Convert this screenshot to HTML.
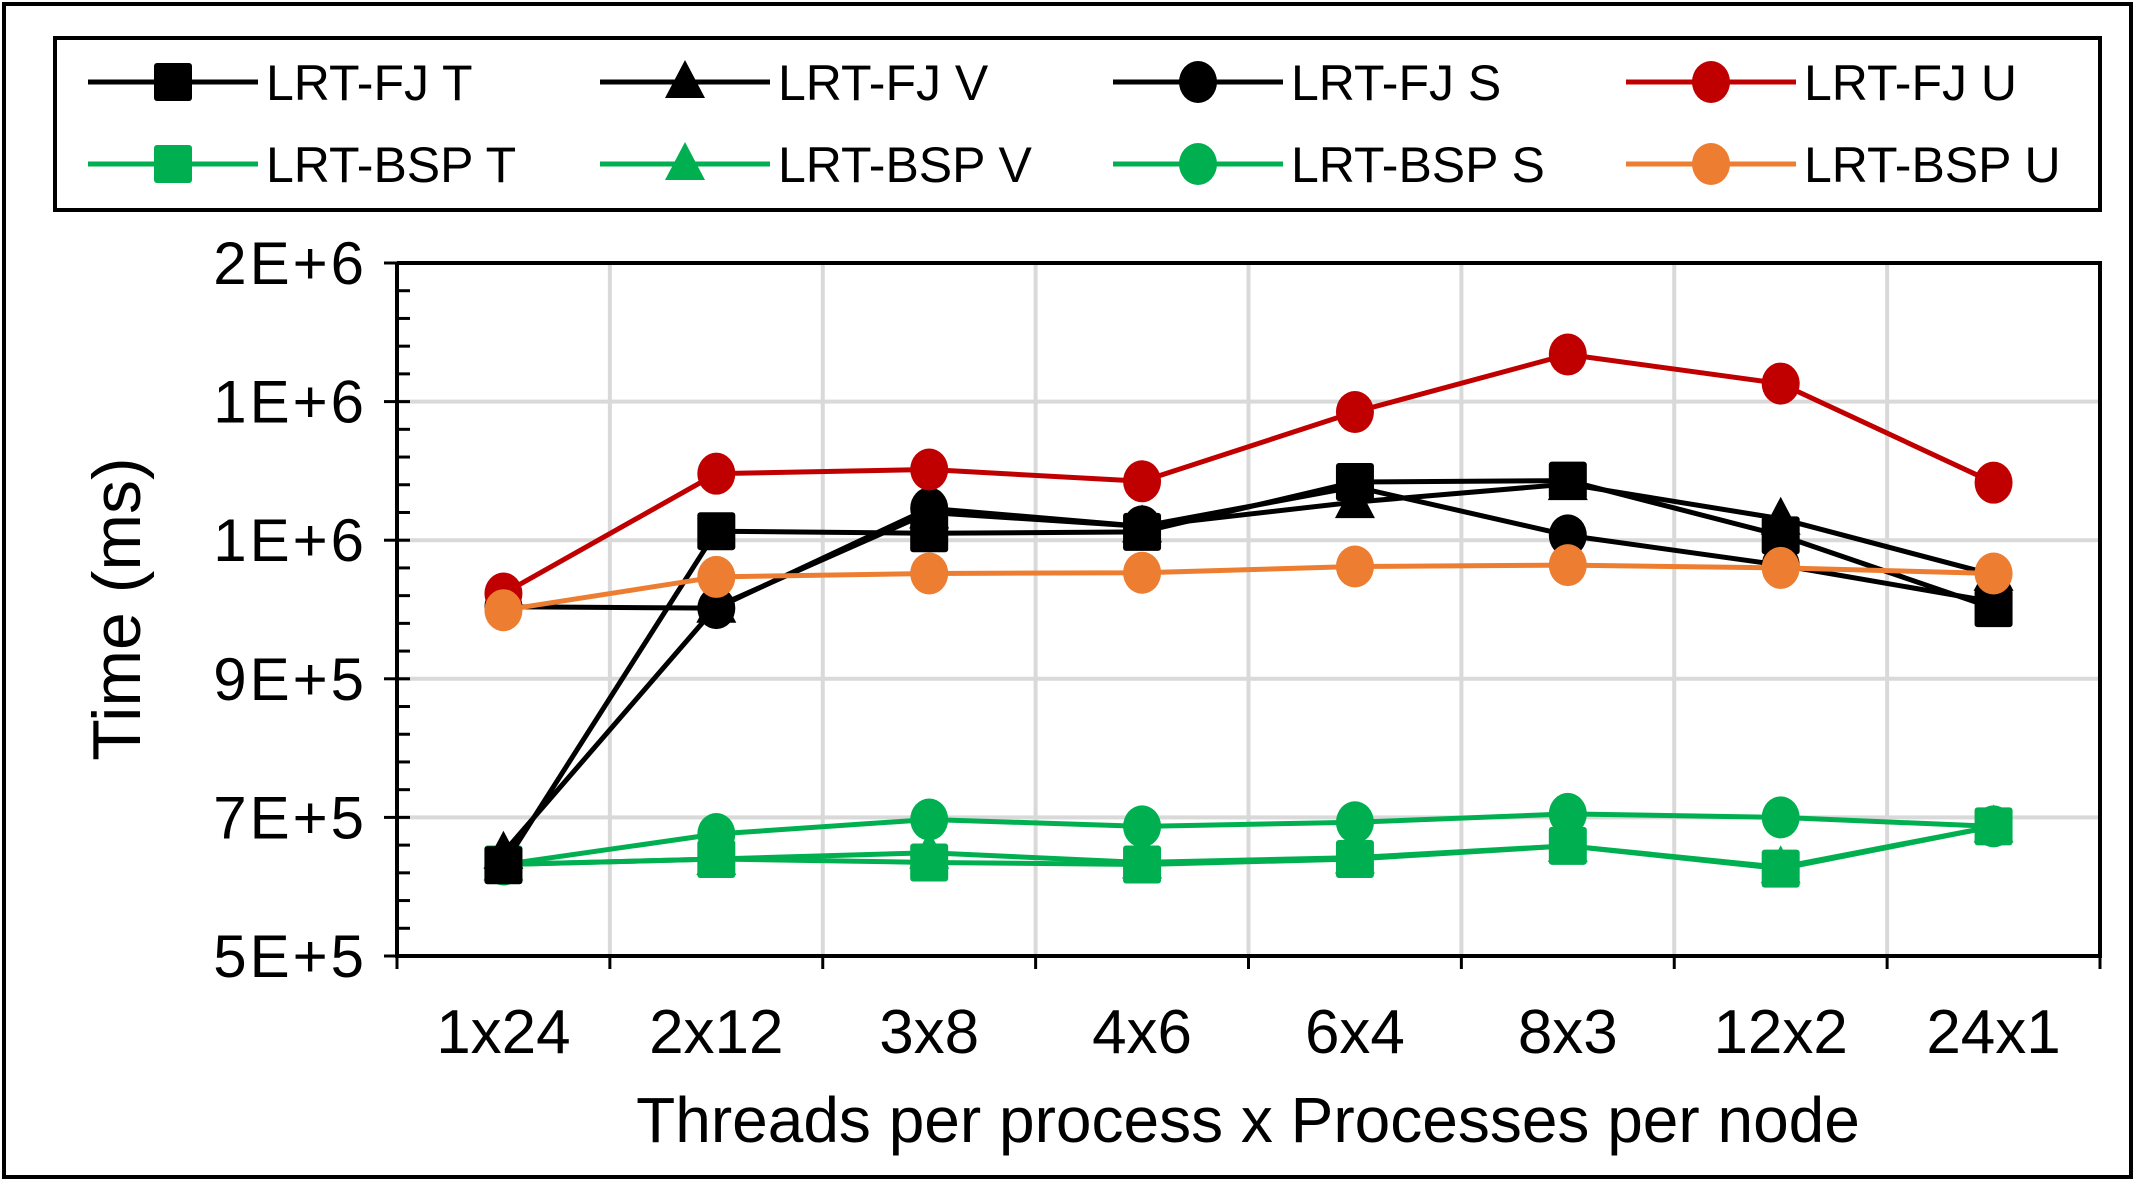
<!DOCTYPE html>
<html><head><meta charset="utf-8"><style>
html,body{margin:0;padding:0;background:#fff;}
svg{display:block;font-family:"Liberation Sans",sans-serif;}
</style></head><body>
<svg id="chart" width="2137" height="1185" viewBox="0 0 2137 1185">
<rect x="4" y="4" width="2127" height="1173" fill="#fff" stroke="#000" stroke-width="4"/>
<rect x="55" y="38" width="2045" height="172" fill="#fff" stroke="#000" stroke-width="4"/>
<g id="grid"></g>
<g id="axes"></g>
<g id="series"></g>
<g id="legend"></g>
<text x="140" y="609" transform="rotate(-90 140 609)" text-anchor="middle" font-size="68">Time (ms)</text>
<text x="1248" y="1142" text-anchor="middle" font-size="64">Threads per process x Processes per node</text>
</svg>
<script>
const categories = ["1x24","2x12","3x8","4x6","6x4","8x3","12x2","24x1"];
const yTicks = [500000,700000,900000,1100000,1300000,1500000];
const yTickLabels = ["5E+5","7E+5","9E+5","1E+6","1E+6","2E+6"];
const seriesNames = ["LRT-FJ T","LRT-FJ V","LRT-FJ S","LRT-FJ U","LRT-BSP T","LRT-BSP V","LRT-BSP S","LRT-BSP U"];
const fjT = [631000,1113000,1110000,1112000,1184000,1186000,1107000,1002000];
const fjV = [649000,1004000,1140000,1120000,1155000,1181000,1131000,1050000];
const fjS = [1004000,1002000,1146000,1120000,1177000,1107000,1064000,1011000];
const fjU = [1023000,1196000,1202000,1185000,1285000,1368000,1326000,1183000];
const bspT = [632000,640000,635000,632000,640000,659000,626000,687000];
const bspV = [632000,640000,649000,635000,642000,659000,628000,687000];
const bspS = [632000,676000,697000,687000,693000,705000,700000,687000];
const bspU = [999000,1047000,1052000,1053000,1062000,1064000,1060000,1052000];

const NS="http://www.w3.org/2000/svg";
const L=397,R=2100,T=263,B=956,yMin=500000,yMax=1500000;
const band=(R-L)/categories.length;
const xPos=i=>L+(i+0.5)*band;
const yPos=v=>B-(v-yMin)/(yMax-yMin)*(B-T);
function mk(tag,attrs,parent){const e=document.createElementNS(NS,tag);for(const k in attrs)e.setAttribute(k,attrs[k]);parent.appendChild(e);return e;}
const grid=document.getElementById('grid'),axes=document.getElementById('axes'),ser=document.getElementById('series'),leg=document.getElementById('legend');
yTicks.forEach((v,i)=>{if(i===0)return;const g=mk('line',{x1:L,x2:R,y1:yPos(v),y2:yPos(v),stroke:'#d9d9d9','stroke-width':4},grid);

});
for(let i=1;i<=categories.length;i++){const g=mk('line',{x1:L+i*band,x2:L+i*band,y1:T,y2:B,stroke:'#d9d9d9','stroke-width':4},grid);

}
for(let v=yMin;v<=yMax;v+=40000){const t=mk('line',{x1:L,x2:L+13,y1:yPos(v),y2:yPos(v),stroke:'#000','stroke-width':3},axes);

}
yTicks.forEach((v,i)=>{const t=mk('line',{x1:L-13,x2:L,y1:yPos(v),y2:yPos(v),stroke:'#000','stroke-width':3},axes);


const tx=mk('text',{x:L-30,y:yPos(v)+21,'text-anchor':'end','font-size':60,'letter-spacing':'3'},axes);tx.textContent=yTickLabels[i];

});
for(let i=0;i<=categories.length;i++){const t=mk('line',{x1:L+i*band,x2:L+i*band,y1:B,y2:B+13,stroke:'#000','stroke-width':3},axes);

}
categories.forEach((c,i)=>{const tx=mk('text',{x:xPos(i),y:1053,'text-anchor':'middle','font-size':62},axes);tx.textContent=c;

});
const ax=mk('path',{d:`M${L} ${T} V${B} H${R} V${T} H${L}`,fill:'none',stroke:'#000','stroke-width':4},axes);



function marker(shape,x,y,color,parent){
 if(shape==='sq') return mk('rect',{x:x-19,y:y-19,width:38,height:38,rx:3,fill:color},parent);
 if(shape==='tri') return mk('polygon',{points:`${x},${y-22} ${x+20},${y+16} ${x-20},${y+16}`,fill:color},parent);
 return mk('ellipse',{cx:x,cy:y,rx:19,ry:21,fill:color},parent);
}
const defs=[[fjT,'#000','sq'],[fjV,'#000','tri'],[fjS,'#000','ci'],[fjU,'#c00000','ci'],[bspT,'#00b050','sq'],[bspV,'#00b050','tri'],[bspS,'#00b050','ci'],[bspU,'#ed7d31','ci']];
const order=[4,5,6,0,1,2,3,7];
order.forEach(k=>{const [data,col,sh]=defs[k];const g=mk('g',{},ser);


const p=mk('polyline',{points:data.map((v,i)=>xPos(i)+','+yPos(v)).join(' '),fill:'none',stroke:col,'stroke-width':5,'stroke-linejoin':'round'},g);


data.forEach((v,i)=>{const m=marker(sh,xPos(i),yPos(v),col,g);

});});
const lx=[88,600,1113,1626],ly=[82,164];
defs.forEach((d,k)=>{const r=Math.floor(k/4),c=k%4;const g=mk('g',{},leg);


mk('line',{x1:lx[c],x2:lx[c]+170,y1:ly[r],y2:ly[r],stroke:d[1],'stroke-width':5},g);
marker(d[2],lx[c]+85,ly[r],d[1],g);
const t=mk('text',{x:lx[c]+178,y:ly[r]+18,'font-size':50},g);t.textContent=seriesNames[k];

});
</script>
</body></html>
